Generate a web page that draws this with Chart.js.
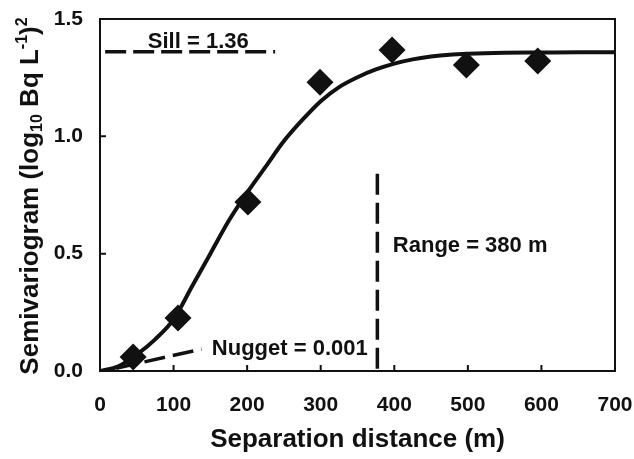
<!DOCTYPE html>
<html>
<head>
<meta charset="utf-8">
<script src="https://cdn.jsdelivr.net/npm/chart.js@4.4.1/dist/chart.umd.min.js"></script>
<style>
  html, body { margin: 0; padding: 0; background: #fff; }
  #wrap { width: 634px; height: 459px; }
</style>
</head>
<body>
<div id="wrap"><canvas id="myChart"></canvas></div>
<script>
// observed semivariogram
const distance = [45, 106, 201, 299, 397, 498, 595];
const semivariance = [0.06, 0.226, 0.72, 1.23, 1.368, 1.304, 1.321];

// fitted model curve
const modelDistance = [0, 25, 50, 75, 100, 125, 150, 175, 200, 225, 250, 275, 300, 325, 350, 375, 400, 425, 450, 475, 500, 550, 600, 650, 700];
const modelValue = [0, 0.02, 0.07, 0.135, 0.22, 0.36, 0.5, 0.64, 0.76, 0.87, 0.98, 1.07, 1.15, 1.21, 1.252, 1.285, 1.31, 1.328, 1.34, 1.348, 1.352, 1.356, 1.357, 1.358, 1.358];

// reference lines
const sillX = [7, 238];
const sillY = [1.36, 1.36];
const rangeX = [377, 377];
const rangeY = [0.01, 0.87];
const nuggetX = [22, 138];
const nuggetY = [0.012, 0.093];

const xTicks = [0, 100, 200, 300, 400, 500, 600, 700];
const yTicks = [0, 0.5, 1.0, 1.5];

const pts = (xs, ys) => xs.map((x, i) => ({ x: x, y: ys[i] }));

const fam = '"Liberation Sans", Arial, sans-serif';

const extras = {
    id: 'extras',
    beforeDraw(chart) {
        const c = chart.ctx;
        c.save();
        c.fillStyle = '#fff';
        c.fillRect(0, 0, chart.width, chart.height);
        c.restore();
    },
    afterDraw(chart) {
        const c = chart.ctx;
        const a = chart.chartArea;
        const xs = chart.scales.x, ys = chart.scales.y;
        c.save();
        // frame
        c.strokeStyle = '#111';
        c.lineWidth = 2;
        c.strokeRect(a.left, a.top, a.right - a.left, a.bottom - a.top);
        // inward ticks
        c.beginPath();
        xTicks.forEach(v => {
            const px = xs.getPixelForValue(v);
            c.moveTo(px, a.bottom);
            c.lineTo(px, a.bottom - 6);
        });
        yTicks.forEach(v => {
            const py = ys.getPixelForValue(v);
            c.moveTo(a.left, py);
            c.lineTo(a.left + 6, py);
        });
        c.stroke();

        // labels
        c.fillStyle = '#111';
        c.font = 'bold 22px ' + fam;
        c.textBaseline = 'alphabetic';
        c.fillText('Sill = 1.36', xs.getPixelForValue(65), ys.getPixelForValue(1.376));
        c.fillText('Range = 380 m', xs.getPixelForValue(398), ys.getPixelForValue(0.507));
        c.fillText('Nugget = 0.001', xs.getPixelForValue(152), ys.getPixelForValue(0.068));

        // y axis title with sub/superscripts
        const big = 'bold 26px ' + fam;
        const small = 'bold 16px ' + fam;
        const parts = [
            { t: 'Semivariogram (log', f: big, dy: 0 },
            { t: '10', f: small, dy: 4 },
            { t: ' Bq L', f: big, dy: 0 },
            { t: '-1', f: small, dy: -11 },
            { t: ')', f: big, dy: 0 },
            { t: '2', f: small, dy: -11 }
        ];
        let total = 0;
        parts.forEach(p => { c.font = p.f; p.w = c.measureText(p.t).width; total += p.w; });
        c.translate(38, 196);
        c.rotate(-Math.PI / 2);
        let x = -total / 2;
        parts.forEach(p => {
            c.font = p.f;
            c.fillText(p.t, x, p.dy);
            x += p.w;
        });
        c.restore();
    }
};

new Chart(document.getElementById('myChart'), {
    type: 'scatter',
    data: {
        datasets: [{
            label: 'Observed',
            data: pts(distance, semivariance),
            pointStyle: 'rectRot',
            pointRadius: 13.5,
            pointHoverRadius: 13.5,
            backgroundColor: '#111',
            borderColor: '#111',
            borderWidth: 0,
            showLine: false
        }, {
            label: 'Model',
            data: pts(modelDistance, modelValue),
            showLine: true,
            pointRadius: 0,
            borderColor: '#111',
            borderWidth: 4,
            cubicInterpolationMode: 'monotone'
        }, {
            label: 'Sill',
            data: pts(sillX, sillY),
            showLine: true,
            pointRadius: 0,
            borderColor: '#111',
            borderWidth: 3.5,
            borderDash: [21, 7]
        }, {
            label: 'Range',
            data: pts(rangeX, rangeY),
            showLine: true,
            pointRadius: 0,
            borderColor: '#111',
            borderWidth: 3.5,
            borderDash: [21, 8]
        }, {
            label: 'Nugget',
            data: pts(nuggetX, nuggetY),
            showLine: true,
            pointRadius: 0,
            borderColor: '#111',
            borderWidth: 3.5,
            borderDash: [21, 8]
        }]
    },
    options: {
        responsive: true,
        maintainAspectRatio: false,
        animation: false,
        events: [],
        layout: { padding: { top: 19, right: 19, left: 0, bottom: 0 } },
        plugins: {
            legend: { display: false },
            tooltip: { enabled: false }
        },
        scales: {
            x: {
                type: 'linear',
                min: 0,
                max: 700,
                afterFit: s => { s.height = 88; s.paddingLeft = 0; s.paddingRight = 0; },
                afterBuildTicks: s => { s.ticks = xTicks.map(v => ({ value: v })); },
                grid: { display: false, drawTicks: false },
                border: { display: true, color: '#111', width: 2 },
                ticks: {
                    color: '#111',
                    padding: 22,
                    maxRotation: 0,
                    font: { family: fam, size: 21, weight: 'bold' }
                },
                title: {
                    display: true,
                    text: 'Separation distance (m)',
                    color: '#111',
                    padding: { top: 0, bottom: 4 },
                    font: { family: fam, size: 26, weight: 'bold' }
                }
            },
            y: {
                min: 0,
                max: 1.5,
                afterFit: s => { s.width = 100; s.paddingTop = 0; s.paddingBottom = 0; },
                afterBuildTicks: s => { s.ticks = yTicks.map(v => ({ value: v })); },
                grid: { display: false, drawTicks: false },
                border: { display: true, color: '#111', width: 2 },
                ticks: {
                    color: '#111',
                    padding: 17,
                    callback: v => v.toFixed(1),
                    font: { family: fam, size: 21, weight: 'bold' }
                }
            }
        }
    },
    plugins: [extras]
});
</script>
</body>
</html>
